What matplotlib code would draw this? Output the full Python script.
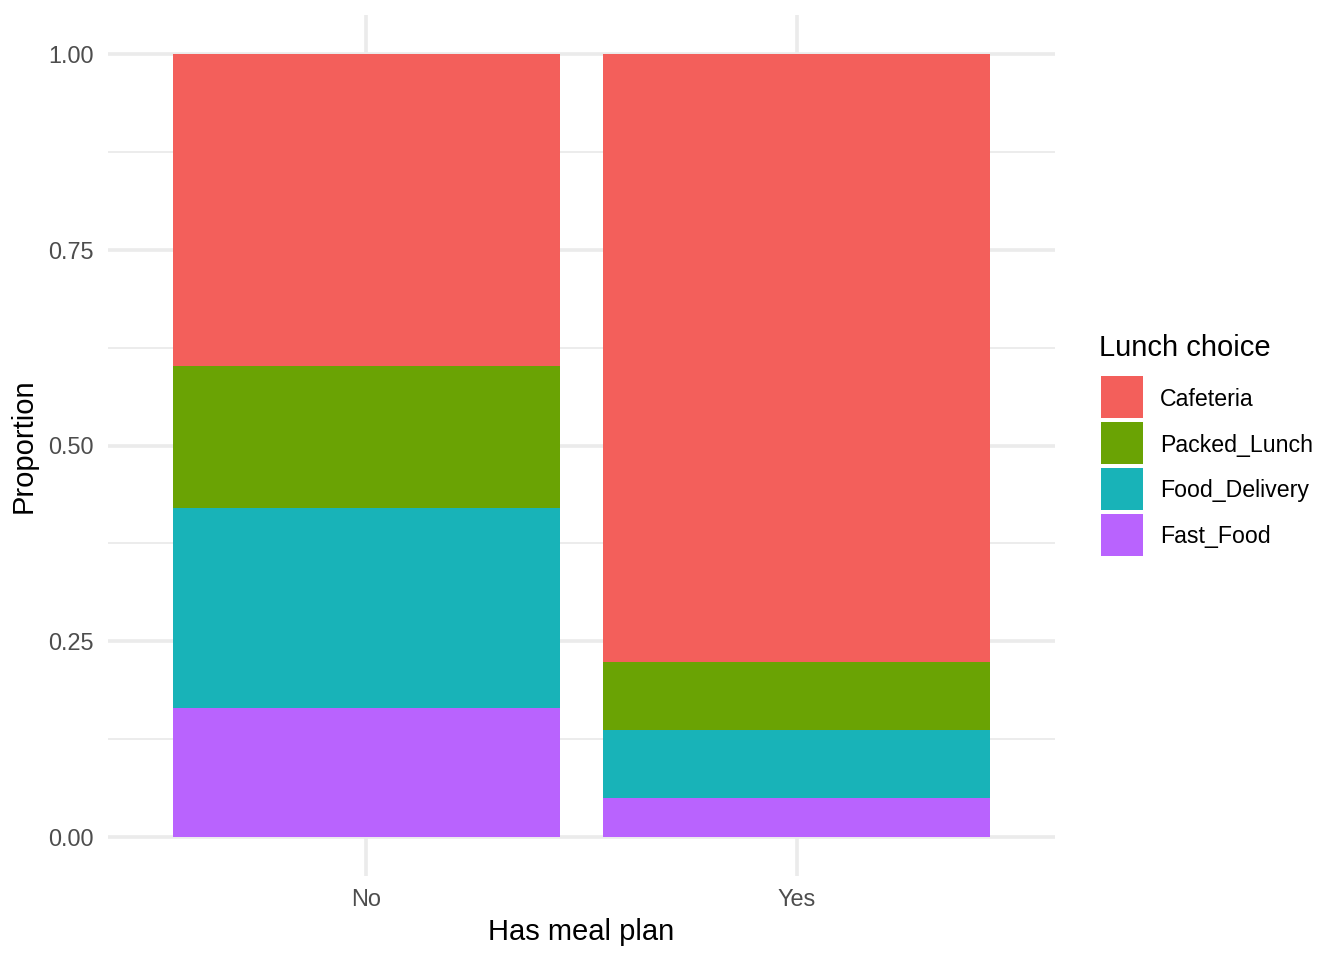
import matplotlib.pyplot as plt
from matplotlib.patches import Rectangle
import numpy as np

plt.rcParams['font.family'] = ['Liberation Sans', 'DejaVu Sans']

groups = ['No', 'Yes']
choices = ['Cafeteria', 'Packed_Lunch', 'Food_Delivery', 'Fast_Food']
# proportions per group, stacked from the bottom: Fast_Food first
fast_food = [0.165, 0.050]
food_delivery = [0.255, 0.087]
packed_lunch = [0.181, 0.087]
cafeteria = [0.399, 0.776]

colors = {'Cafeteria': '#F35F5B', 'Packed_Lunch': '#6AA304',
          'Food_Delivery': '#18B3B8', 'Fast_Food': '#B963FE'}

W, H = 1344, 960
fig = plt.figure(figsize=(W / 100, H / 100), dpi=100)
ax = fig.add_axes([108 / W, 84 / H, (1055 - 108) / W, (876 - 15) / H])

x = np.arange(1, len(groups) + 1)
stack = [('Fast_Food', fast_food), ('Food_Delivery', food_delivery),
         ('Packed_Lunch', packed_lunch), ('Cafeteria', cafeteria)]
bottom = np.zeros(len(groups))
for name, vals in stack:
    ax.bar(x, vals, width=0.9, bottom=bottom, color=colors[name], zorder=2)
    bottom += np.array(vals)

ax.set_xlim(0.4, 2.6)
ax.set_ylim(-0.05, 1.05)
ax.set_xticks(x)
ax.set_xticklabels(groups)
ax.set_yticks([0, 0.25, 0.5, 0.75, 1.0])
ax.set_yticklabels(['0.00', '0.25', '0.50', '0.75', '1.00'])
ax.set_yticks([0.125, 0.375, 0.625, 0.875], minor=True)

ax.grid(which='major', color='#EBEBEB', linewidth=2.6, zorder=0)
ax.grid(which='minor', axis='y', color='#EBEBEB', linewidth=1.3, zorder=0)
ax.set_axisbelow(True)
for s in ax.spines.values():
    s.set_visible(False)
ax.tick_params(which='both', length=0, labelsize=16.9, labelcolor='#4D4D4D')
ax.tick_params(axis='y', pad=10)
ax.tick_params(axis='x', pad=9)

ax.set_xlabel('Has meal plan', fontsize=21, color='black', labelpad=5)
ax.set_ylabel('Proportion', fontsize=21, color='black', labelpad=8)

# legend drawn by hand (ggplot-style square keys)
fig.text(1099 / W, 1 - 348 / H, 'Lunch choice', fontsize=21,
         ha='left', va='center')
for i, c in enumerate(choices):
    top = 376 + 46 * i
    fig.add_artist(Rectangle((1101 / W, 1 - (top + 42) / H), 42 / W, 42 / H,
                             transform=fig.transFigure, facecolor=colors[c],
                             edgecolor='none'))
    fig.text(1160 / W, 1 - (top + 23) / H, c, fontsize=16.7,
             ha='left', va='center')

fig.savefig('out.png', dpi=100)
